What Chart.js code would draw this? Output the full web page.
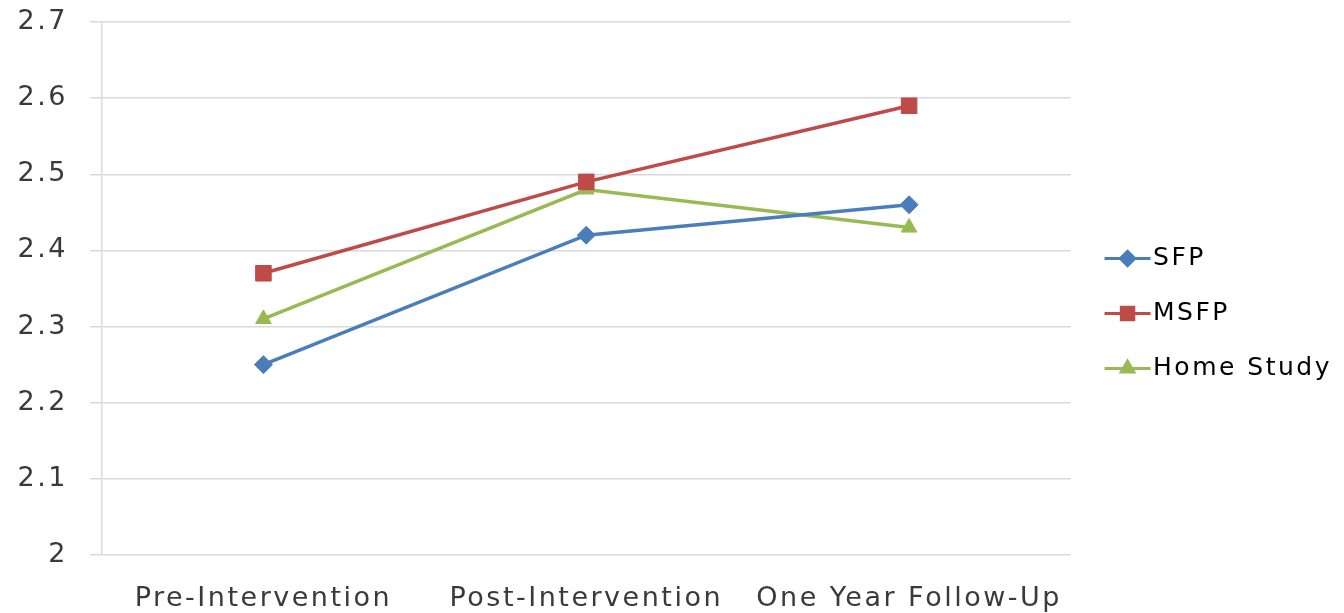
<!DOCTYPE html>
<html>
<head>
<meta charset="utf-8">
<script src="https://cdn.jsdelivr.net/npm/chart.js@4/dist/chart.umd.min.js"></script>
<style>
  html, body { margin: 0; padding: 0; background: #ffffff; }
  #wrap { width: 1344px; height: 613px; }
</style>
</head>
<body>
<div id="wrap"><canvas id="chart"></canvas></div>
<script>
// Values.
const categories = ['Pre-Intervention', 'Post-Intervention', 'One Year Follow-Up'];
const sfpValues = [2.25, 2.42, 2.46];
const msfpValues = [2.37, 2.49, 2.59];
const homeStudyValues = [2.31, 2.48, 2.43];
const seriesNames = ['SFP', 'MSFP', 'Home Study'];
const yTicks = [2, 2.1, 2.2, 2.3, 2.4, 2.5, 2.6, 2.7];

// Excel 2007 style colours.
const colors = ['#4a7ebb', '#be4b48', '#98b954'];
const markers = ['rectRot', 'rect', 'triangle'];
const markerSizes = [9, 11, 9];

const fontFamily = '"DejaVu Sans", sans-serif';
const spacing = '2.5px';

/**
 * Canvas letter spacing gets reset whenever the canvas is resized, so set it again.
 */
const spacingPlugin = {
    id: 'spacing',
    beforeUpdate( chart ) { chart.ctx.letterSpacing = spacing; },
    beforeDraw( chart ) { chart.ctx.letterSpacing = spacing; }
};

/**
 * Draws line + marker in the legend, like the Excel legend keys.
 */
const legendKeyPlugin = {
    id: 'legendKeys',
    afterDraw( chart ) {
        const legend = chart.legend;
        if ( !legend || !legend.legendHitBoxes ) return;
        const ctx = chart.ctx;
        legend.legendHitBoxes.forEach( ( box, i ) => {
            const y = box.top + box.height / 2;
            const x0 = box.left + 4;
            const x1 = box.left + 50;
            ctx.save();
            ctx.strokeStyle = colors[i];
            ctx.fillStyle = colors[i];
            ctx.lineWidth = 3;
            ctx.beginPath();
            ctx.moveTo( x0, y );
            ctx.lineTo( x1, y );
            ctx.stroke();
            Chart.helpers.drawPoint( ctx, {
                pointStyle: markers[i],
                radius: markerSizes[i] * 0.8,
                borderWidth: 1
            }, ( x0 + x1 ) / 2, y );
            ctx.restore();
        });
    }
};

function makeDataset( i, values ) {
    return {
        label: seriesNames[i],
        data: values,
        borderColor: colors[i],
        backgroundColor: colors[i],
        borderWidth: 3.5,
        pointStyle: markers[i],
        pointRadius: markerSizes[i],
        pointBorderWidth: 1,
        pointHoverRadius: markerSizes[i],
        tension: 0
    };
}

new Chart( document.getElementById( 'chart' ), {
    type: 'line',
    data: {
        labels: categories,
        datasets: [
            makeDataset( 0, sfpValues ),
            makeDataset( 1, msfpValues ),
            makeDataset( 2, homeStudyValues )
        ]
    },
    options: {
        responsive: true,
        maintainAspectRatio: false,
        animation: false,
        events: [],
        layout: { padding: { top: 14, right: 2, bottom: 0, left: 0 } },
        plugins: {
            tooltip: { enabled: false },
            legend: {
                position: 'right',
                align: 'center',
                labels: {
                    boxWidth: 40,
                    padding: 30,
                    color: '#505050',
                    font: { family: fontFamily, size: 25 },
                    generateLabels( chart ) {
                        return chart.data.datasets.map( ( ds, i ) => ({
                            text: ds.label,
                            fillStyle: 'rgba(0,0,0,0)',
                            strokeStyle: 'rgba(0,0,0,0)',
                            lineWidth: 0,
                            datasetIndex: i,
                            hidden: false
                        }) );
                    }
                }
            }
        },
        scales: {
            x: {
                offset: true,
                grid: { display: true, color: 'rgba(0,0,0,0)', drawTicks: false },
                border: { display: false },
                ticks: {
                    color: '#3a3a3a',
                    padding: 28,
                    maxRotation: 0,
                    autoSkip: false,
                    font: { family: fontFamily, size: 27 }
                },
                afterFit( scale ) { scale.height = 58; }
            },
            y: {
                min: 2,
                max: 2.7,
                afterBuildTicks( scale ) {
                    scale.ticks = yTicks.map( v => ({ value: v }) );
                },
                grid: { color: '#d9d9d9', lineWidth: 1.5, tickLength: 12 },
                border: { display: true, color: '#d9d9d9', width: 1.5 },
                ticks: {
                    color: '#3a3a3a',
                    padding: 22,
                    font: { family: fontFamily, size: 27 },
                    callback: v => String( Math.round( v * 10 ) / 10 )
                },
                afterFit( scale ) {
                    scale.width = 102;
                    scale.paddingTop = 22;
                    scale.paddingBottom = 0;
                }
            }
        }
    },
    plugins: [spacingPlugin, legendKeyPlugin]
});
</script>
</body>
</html>
